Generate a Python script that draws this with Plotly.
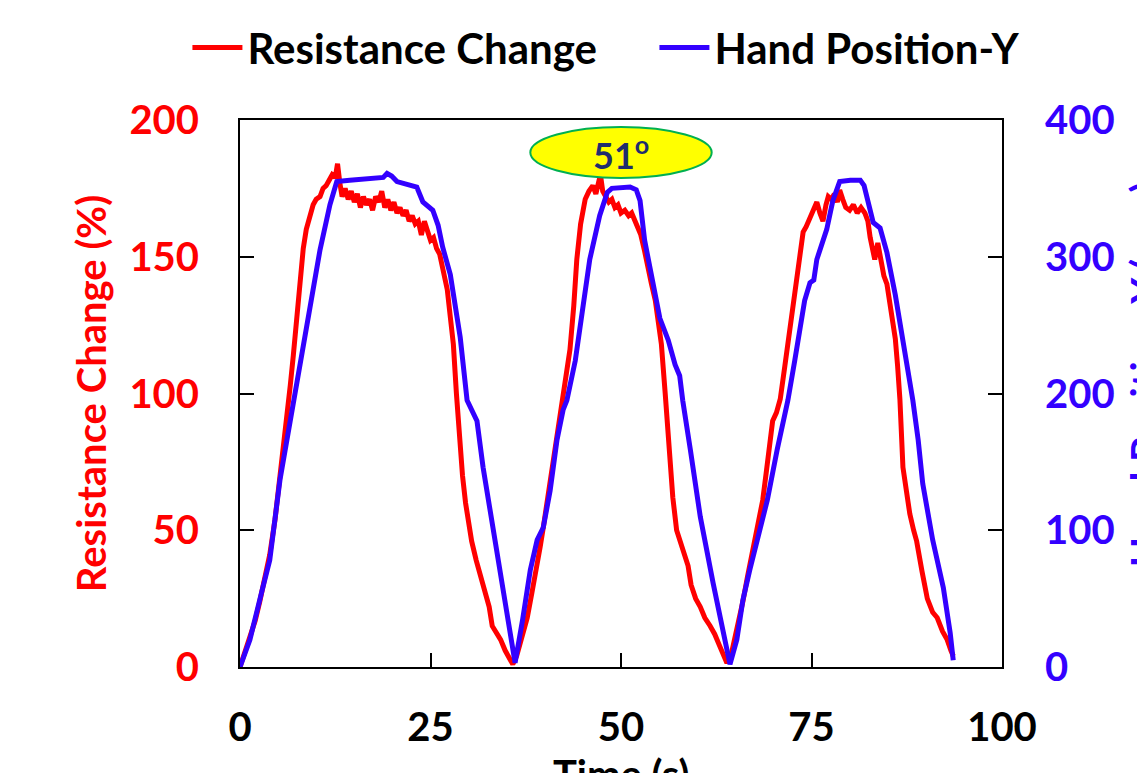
import plotly.graph_objects as go

# Resistance change (%) vs time (s)
res_t = [0.0, 0.7, 1.3, 2.0, 2.6, 3.3, 3.9, 4.6, 5.2, 5.6, 5.9, 6.3, 6.6, 7.0, 7.4, 7.9, 8.3, 8.7, 9.2, 9.6,
         10.0, 10.5, 10.9, 11.3, 11.7, 12.1, 12.5, 12.8, 13.1, 13.4, 13.8, 14.2, 14.6, 15.0, 15.4, 15.8, 16.2, 16.6,
         17.0, 17.4, 17.8, 18.2, 18.6, 19.0, 19.4, 19.8, 20.2, 20.6, 21.0, 21.4, 21.8, 22.2, 22.6, 23.0, 23.4, 23.8,
         24.2, 24.6, 25.0, 25.4, 25.8, 26.2, 26.6, 27.2, 27.6, 28.0, 28.4, 28.8, 29.2, 29.6, 30.0, 30.4, 31.0, 31.6,
         32.2, 32.7, 33.1, 33.6, 34.2, 34.8, 35.8,
         36.3, 36.8, 37.3, 37.7, 38.3, 39.0, 39.4, 39.8, 40.4, 41.1, 41.6, 42.0, 42.4, 42.9, 43.3, 43.8, 44.2, 44.7,
         45.3, 45.8, 46.3, 46.7, 47.0, 47.3, 47.6, 48.0, 48.4, 48.8, 49.2, 49.6, 50.0, 50.5, 51.0, 51.4, 51.8, 52.2,
         52.6, 53.1, 53.5, 54.0, 54.5, 54.9, 55.3, 55.8, 56.3, 56.8, 57.3, 57.8, 58.3, 58.8, 59.2, 59.8, 60.4, 61.0,
         61.7, 62.3, 62.9, 63.4, 63.9,
         64.5, 65.0, 65.5, 66.0, 66.6, 67.3, 68.0, 68.6, 69.1, 69.6, 69.9, 70.4, 70.9, 71.5, 72.2, 72.6, 73.1, 73.5,
         73.9, 74.3, 74.8, 75.2, 75.7, 76.1, 76.5, 76.9, 77.2, 77.6, 78.0, 78.4, 78.7, 79.1, 79.5, 80.0, 80.5, 81.0,
         81.5, 82.0, 82.4, 82.7, 83.0, 83.3, 83.7, 84.1, 84.5, 84.9, 85.4, 86.0, 86.3, 86.6, 87.0, 87.5, 87.9, 88.4,
         88.8, 89.5, 90.2, 90.9, 91.5, 92.2, 92.8, 93.3, 93.6]
res_val = [0, 6, 10, 17, 24, 33, 41, 54, 68, 80, 88, 96, 103, 114, 126, 140, 153, 160, 166, 169,
           171, 172, 175, 176, 178, 180, 179, 184, 177, 172, 175, 171, 174, 170, 173, 168, 172, 169,
           171, 167, 172, 170, 174, 168, 171, 167, 170, 166, 168, 165, 167, 163, 165, 162, 163, 158,
           163, 159, 156, 157, 153, 151, 146, 138, 128, 118, 100, 82, 70, 60, 52, 46, 39, 33,
           28, 22, 15, 13, 10, 6, 1,
           4, 9, 14, 18, 27, 37, 44, 51, 62, 73, 82, 91, 98, 107, 116, 132, 149, 162,
           171, 174, 176, 173, 177, 180, 174, 172, 170, 171, 168, 169, 166, 167, 165, 166, 163, 161,
           158, 152, 146, 140, 134, 127, 118, 100, 80, 62, 50, 46, 41, 37, 30, 25, 22, 18,
           15, 12, 8, 5, 1.5,
           5, 11, 17, 24, 33, 43, 52, 61, 72, 82, 90, 93, 98, 110, 124, 132, 140, 150,
           159, 161, 164.5, 167, 170, 166, 163, 169, 172, 171, 173, 170, 174.4, 171, 168, 167, 169, 166,
           168, 166, 163, 157, 152, 149, 155, 148, 143, 140, 130, 120, 110, 98, 73, 62, 56, 50,
           46, 35, 25, 20, 18, 13, 10, 6, 4]

# Hand position Y vs time (s)
pos_t = [0.0, 1.3, 2.9, 3.9, 5.25, 6.6, 7.9, 8.5, 9.2, 10.5, 11.8, 12.7, 14.4, 17.1, 18.8, 19.3, 19.9, 20.6,
         21.9, 23.2, 24.0, 25.3, 26.0, 26.6, 27.6, 28.2, 28.9, 29.8, 31.1, 31.9, 32.8, 33.7, 34.5, 35.4, 36.1,
         37.1, 38.1, 39.0, 39.8, 40.7, 41.6, 42.4, 42.9, 44.0, 44.6, 45.9, 47.2, 48.2, 48.8, 51.2, 52.0, 52.5,
         53.1, 54.1, 55.1, 56.2, 57.1, 57.7, 58.1, 59.1, 60.4, 62.1, 63.4, 64.3,
         65.2, 66.0, 66.9, 67.8, 69.2, 70.5, 71.1, 71.9, 72.8, 73.5, 74.1, 74.8, 75.3, 75.7, 76.1, 77.0, 77.8,
         78.7, 80.1, 81.4, 81.9, 82.3, 83.1, 84.0, 84.9, 86.0, 87.0, 87.7, 88.3, 89.0, 89.6, 90.9, 92.3, 93.2, 93.6]
pos_val = [0, 20, 56, 78, 137, 181, 224, 239, 265, 305, 338, 355, 356, 357, 358, 361, 359, 355,
           353, 351, 340, 334, 323, 307, 287, 265, 241, 195, 180, 146, 115, 86, 58, 29, 3,
           35, 71, 93, 102, 129, 166, 188, 195, 224, 246, 298, 330, 347, 350, 351, 349, 341,
           312, 283, 255, 239, 221, 213, 195, 159, 110, 61, 25, 2,
           20, 49, 71, 91, 122, 159, 173, 195, 224, 249, 268, 281, 283, 298, 305, 320, 341,
           355, 356, 356, 352, 344, 325, 321, 303, 272, 239, 217, 195, 166, 134, 93, 58, 25, 5]

x_ticks = [0, 25, 50, 75, 100]
y_ticks = [0, 50, 100, 150, 200]
y2_ticks = [0, 100, 200, 300, 400]

RED = "#FF0000"
BLUE = "#3300FF"
FONT = "Lato"
FS = 40

fig = go.Figure()
fig.add_trace(go.Scatter(x=res_t, y=res_val, name="Resistance Change", mode="lines",
                         line=dict(color=RED, width=5)))
fig.add_trace(go.Scatter(x=pos_t, y=pos_val, name="Hand Position-Y", mode="lines", yaxis="y2",
                         line=dict(color=BLUE, width=5)))

axis_common = dict(showgrid=False, zeroline=False, showline=True, linecolor="black", linewidth=2,
                   ticks="inside", ticklen=14, tickwidth=2, tickcolor="black", automargin=False)

fig.update_layout(
    width=1137, height=773,
    margin=dict(l=240, r=135, t=120, b=106, autoexpand=False),
    paper_bgcolor="white", plot_bgcolor="white",
    font=dict(family=FONT, size=FS, color="black", weight="bold"),
    xaxis=dict(range=[0, 100], tickvals=x_ticks, mirror=True, ticklabelstandoff=24,
               tickfont=dict(family=FONT, size=FS, color="black", weight="bold"),
               **axis_common),
    yaxis=dict(range=[0, 200], tickvals=y_ticks, ticklabelstandoff=31,
               tickfont=dict(family=FONT, size=FS, color=RED, weight="bold"),
               title=dict(text="Resistance Change (%)", standoff=10,
                          font=dict(family=FONT, size=FS, color=RED, weight="bold")),
               **axis_common),
    yaxis2=dict(range=[0, 400], tickvals=y2_ticks, overlaying="y", side="right", ticklabelstandoff=33,
                tickfont=dict(family=FONT, size=FS, color=BLUE, weight="bold"),
                **axis_common),
    legend=dict(orientation="h", x=-0.069, y=1.132, xanchor="left", yanchor="middle",
                font=dict(family=FONT, size=42, color="black", weight="bold"),
                bgcolor="rgba(0,0,0,0)", itemwidth=50, entrywidth=402, tracegroupgap=0),
    showlegend=True,
)

# axis titles (partly cut off by the page edge, as in the original)
fig.add_annotation(x=0.5, y=-0.148, xref="paper", yref="paper", xanchor="center", yanchor="top",
                   text="Time (s)", showarrow=False,
                   font=dict(family=FONT, size=FS, color="black", weight="bold"))
fig.add_annotation(x=1.153, y=0.534, xref="paper", yref="paper", xanchor="left", yanchor="middle",
                   text="Hand Position-Y (mm)", textangle=-90, showarrow=False,
                   font=dict(family=FONT, size=FS, color=BLUE, weight="bold"))

fig.add_shape(type="circle", xref="x", yref="y", x0=38.1, x1=61.9, y0=178.8, y1=197.4,
              fillcolor="#FFFF00", line=dict(color="#00B050", width=2), layer="above")
fig.add_annotation(x=50, y=188, xref="x", yref="y", text="51<sup>o</sup>", showarrow=False,
                   font=dict(family=FONT, size=36, color="#1F2D6E", weight="bold"))

fig.write_html("out.html")
